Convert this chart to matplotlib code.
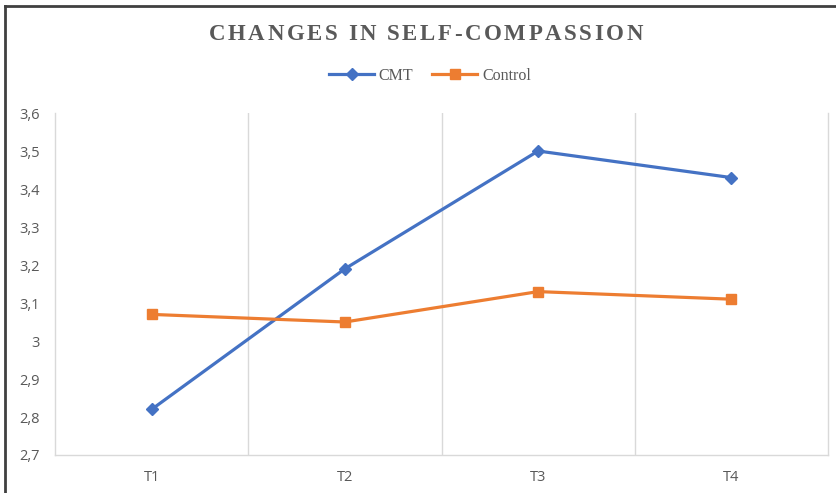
import matplotlib
matplotlib.use("Agg")
import matplotlib.pyplot as plt
from matplotlib.lines import Line2D

categories = ["T1", "T2", "T3", "T4"]
cmt = [2.82, 3.19, 3.50, 3.43]
control = [3.07, 3.05, 3.13, 3.11]
yticks = [2.7, 2.8, 2.9, 3.0, 3.1, 3.2, 3.3, 3.4, 3.5, 3.6]
ytick_labels = ["2,7", "2,8", "2,9", "3", "3,1", "3,2", "3,3", "3,4", "3,5", "3,6"]
title = "CHANGES IN SELF-COMPASSION"

W, H = 836, 493
fig = plt.figure(figsize=(W/100, H/100), dpi=100)
ax = fig.add_axes([55/W, 1-455/H, (828-55)/W, (455-113)/H])

x = list(range(1, len(categories) + 1))
ax.plot(x, cmt, color="#4472C4", lw=2.3, marker="D", ms=6.5, label="CMT", zorder=3)
ax.plot(x, control, color="#ED7D31", lw=2.3, marker="s", ms=7.5, label="Control", zorder=3)

ax.set_xlim(0.5, len(categories) + 0.5)
ax.set_ylim(2.7, 3.6)
ax.set_yticks(yticks)
ax.set_yticklabels(ytick_labels)
ax.set_xticks(x)
ax.set_xticklabels(categories)
for b in [1.5, 2.5, 3.5]:
    ax.axvline(b, color="#d9d9d9", lw=1, zorder=1)
for s in ["left", "bottom", "right"]:
    ax.spines[s].set_color("#d9d9d9")
    ax.spines[s].set_linewidth(1)
ax.spines["top"].set_visible(False)
ax.tick_params(length=0, colors="#595959", labelsize=10.5)
ax.tick_params(axis="y", pad=11)
ax.tick_params(axis="x", pad=11)
for lab in ax.get_yticklabels() + ax.get_xticklabels():
    lab.set_fontfamily("Open Sans")

# title with letter spacing
renderer = fig.canvas.get_renderer()
tprops = dict(fontsize=16.5, fontweight="bold", family="Liberation Serif", color="#595959")
spacing = 2.6  # px between letters
widths = []
for ch in title:
    t = fig.text(0, 0, ch if ch != " " else "I", **tprops)
    w = t.get_window_extent(renderer).width
    widths.append(w if ch != " " else w * 0.6)
    t.remove()
total = sum(widths) + spacing * (len(title) - 1)
cx, cy = 426, H - 35
xp = cx - total / 2
for ch, w in zip(title, widths):
    if ch != " ":
        fig.text(xp / W, cy / H, ch, ha="left", va="center", **tprops)
    xp += w + spacing

leg = fig.legend(loc="center", bbox_to_anchor=(430/W, 1-76/H), ncol=2, frameon=False,
                 prop={"family": "Liberation Serif", "size": 11.5}, handlelength=2.8,
                 columnspacing=1.2, handletextpad=0.3)
for t in leg.get_texts():
    t.set_color("#595959")

# outer frame: top and left dark lines
fig.add_artist(Line2D([5/W, 5/W], [0, 1-6/H], transform=fig.transFigure, color="#404040", lw=2))
fig.add_artist(Line2D([5/W, 1], [1-6/H, 1-6/H], transform=fig.transFigure, color="#404040", lw=2))

fig.savefig("out.png", dpi=100)
